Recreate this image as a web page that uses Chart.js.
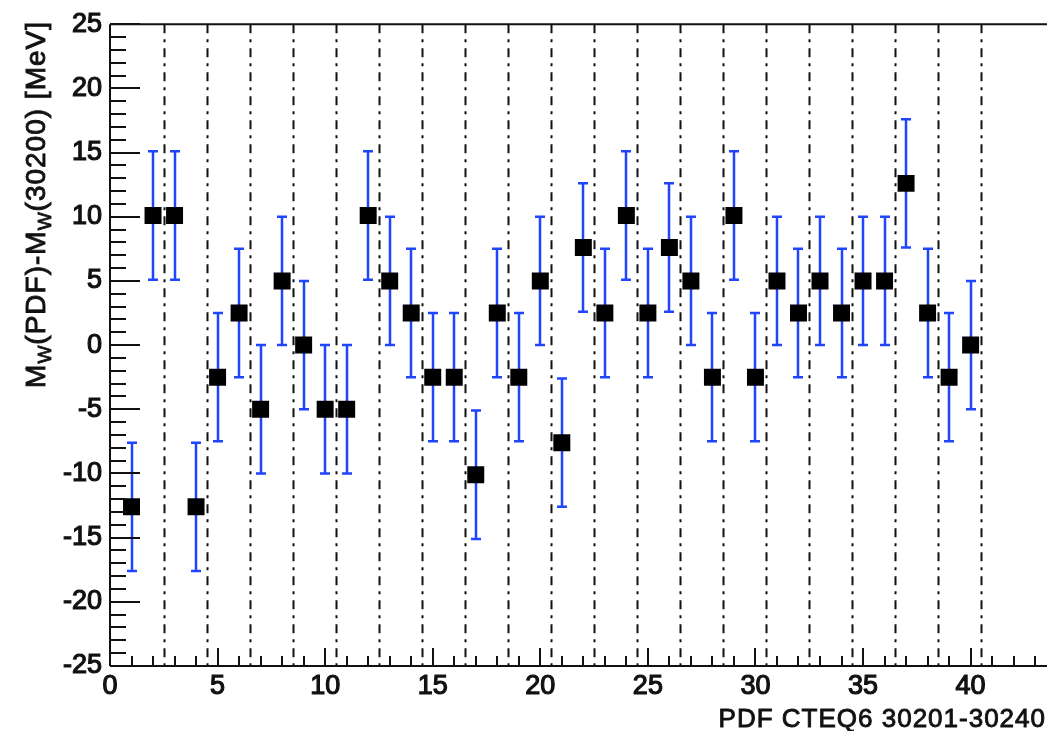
<!DOCTYPE html>
<html>
<head>
<meta charset="utf-8">
<script src="https://cdn.jsdelivr.net/npm/chart.js@4.4.1/dist/chart.umd.min.js"></script>
<style>
  html, body { margin: 0; padding: 0; background: #fff; }
  #wrap { width: 1059px; height: 731px; }
</style>
</head>
<body>
<div id="wrap"><canvas id="c"></canvas></div>
<script>
// ── DATA ──
const members = [1,2,3,4,5,6,7,8,9,10,11,12,13,14,15,16,17,18,19,20,
                 21,22,23,24,25,26,27,28,29,30,31,32,33,34,35,36,37,38,39,40];
const shifts  = [-12.6, 10.1, 10.1, -12.6, -2.5, 2.5, -5.0, 5.0, 0.0, -5.0,
                 -5.0, 10.1, 5.0, 2.5, -2.5, -2.5, -10.1, 2.5, -2.5, 5.0,
                 -7.6, 7.6, 2.5, 10.1, 2.5, 7.6, 5.0, -2.5, 10.1, -2.5,
                 5.0, 2.5, 5.0, 2.5, 5.0, 5.0, 12.6, 2.5, -2.5, 0.0];
const errors  = new Array(40).fill(5.0);
const separators = [2.5, 4.5, 6.5, 8.5, 10.5, 12.5, 14.5, 16.5, 18.5, 20.5,
                    22.5, 24.5, 26.5, 28.5, 30.5, 32.5, 34.5, 36.5, 38.5, 40.5];
const xTickLabels = [0, 5, 10, 15, 20, 25, 30, 35, 40];
const yTickLabels = [-25, -20, -15, -10, -5, 0, 5, 10, 15, 20, 25];
const X_MAX = 43.55;

const FONT = '"Liberation Sans", Arial, sans-serif';
const BLUE = '#1f45ff';
const INK = '#111';

// ── PLUGINS ──
const separatorLines = {
    id: 'separatorLines',
    beforeDatasetsDraw(chart) {
        const { ctx, chartArea: a, scales: { x } } = chart;
        ctx.save();
        ctx.strokeStyle = '#111';
        ctx.lineWidth = 2;
        ctx.setLineDash([9, 6, 3, 6]);
        separators.forEach(v => {
            const px = Math.round(x.getPixelForValue(v)) + 0.5;
            ctx.beginPath(); ctx.moveTo(px, a.top); ctx.lineTo(px, a.bottom); ctx.stroke();
        });
        ctx.restore();
    }
};

const errorBars = {
    id: 'errorBars',
    beforeDatasetsDraw(chart) {
        const { ctx, scales: { x, y } } = chart;
        ctx.save();
        ctx.strokeStyle = BLUE;
        ctx.lineWidth = 2.5;
        members.forEach((m, i) => {
            const px = Math.round(x.getPixelForValue(m));
            const yt = y.getPixelForValue(shifts[i] + errors[i]);
            const yb = y.getPixelForValue(shifts[i] - errors[i]);
            ctx.beginPath();
            ctx.moveTo(px, yt); ctx.lineTo(px, yb);
            ctx.moveTo(px - 5, yt); ctx.lineTo(px + 5, yt);
            ctx.moveTo(px - 5, yb); ctx.lineTo(px + 5, yb);
            ctx.stroke();
        });
        ctx.restore();
    }
};

const frameTicks = {
    id: 'frameTicks',
    afterDraw(chart) {
        const { ctx, chartArea: a, scales: { x, y } } = chart;
        ctx.save();
        ctx.strokeStyle = INK;
        ctx.lineWidth = 2;
        ctx.beginPath();
        ctx.moveTo(a.left, a.top); ctx.lineTo(a.right, a.top);
        ctx.moveTo(a.left, a.top); ctx.lineTo(a.left, a.bottom);
        ctx.moveTo(a.left, a.bottom); ctx.lineTo(a.right, a.bottom);
        ctx.stroke();
        ctx.beginPath();
        for (let v = -25; v <= 25; v++) {
            const py = Math.round(y.getPixelForValue(v));
            const len = v % 5 === 0 ? 30 : 16;
            ctx.moveTo(a.left, py); ctx.lineTo(a.left + len, py);
        }
        for (let v = 0; v <= Math.floor(X_MAX); v++) {
            const px = Math.round(x.getPixelForValue(v));
            const len = v % 5 === 0 ? 18 : 10;
            ctx.moveTo(px, a.bottom); ctx.lineTo(px, a.bottom - len);
        }
        ctx.stroke();

        // axis titles
        ctx.fillStyle = INK;
        ctx.strokeStyle = INK;
        ctx.lineWidth = 0.9;
        ctx.textBaseline = 'alphabetic';
        ctx.font = `26px ${FONT}`;
        ctx.letterSpacing = '1px';
        ctx.textAlign = 'right';
        ctx.fillText('PDF CTEQ6 30201-30240', 1046, 727);
        ctx.strokeText('PDF CTEQ6 30201-30240', 1046, 727);

        const parts = [['M', 0], ['W', 1], ['(PDF)-M', 0], ['W', 1], ['(30200) [MeV]', 0]];
        const big = `28px ${FONT}`, small = `19px ${FONT}`;
        let total = 0;
        parts.forEach(([t, s]) => { ctx.font = s ? small : big; total += ctx.measureText(t).width; });
        ctx.translate(45, 21);
        ctx.rotate(-Math.PI / 2);
        ctx.textAlign = 'left';
        let cx = -total;
        parts.forEach(([t, s]) => {
            ctx.font = s ? small : big;
            ctx.fillText(t, cx, s ? 6 : 0);
            ctx.strokeText(t, cx, s ? 6 : 0);
            cx += ctx.measureText(t).width;
        });
        ctx.restore();
    }
};

// ── CHART ──
new Chart(document.getElementById('c'), {
    type: 'scatter',
    data: {
        datasets: [{
            data: members.map((m, i) => ({ x: m, y: shifts[i] })),
            pointStyle: 'rect',
            pointRadius: 12,
            pointHoverRadius: 12,
            backgroundColor: '#000',
            borderColor: '#000',
            borderWidth: 0
        }]
    },
    options: {
        responsive: true, maintainAspectRatio: false, animation: false,
        layout: { padding: { top: 21, right: 0, left: 0, bottom: 0 } },
        plugins: { legend: { display: false }, tooltip: { enabled: false } },
        scales: {
            x: {
                type: 'linear', min: 0, max: X_MAX,
                afterBuildTicks: s => { s.ticks = xTickLabels.map(v => ({ value: v })); },
                afterFit: s => { s.height = 65; },
                grid: { display: false, drawTicks: false },
                border: { display: false },
                ticks: { color: INK, padding: 4, maxRotation: 0, autoSkip: false,
                         textStrokeColor: INK, textStrokeWidth: 1.2,
                         font: { family: FONT, size: 27 } }
            },
            y: {
                type: 'linear', min: -25, max: 25,
                afterBuildTicks: s => { s.ticks = yTickLabels.map(v => ({ value: v })); },
                afterFit: s => { s.width = 110; },
                grid: { display: false, drawTicks: false },
                border: { display: false },
                ticks: { color: INK, padding: 8, autoSkip: false,
                         textStrokeColor: INK, textStrokeWidth: 1.2,
                         font: { family: FONT, size: 27 } }
            }
        }
    },
    plugins: [separatorLines, errorBars, frameTicks]
});
</script>
</body>
</html>
